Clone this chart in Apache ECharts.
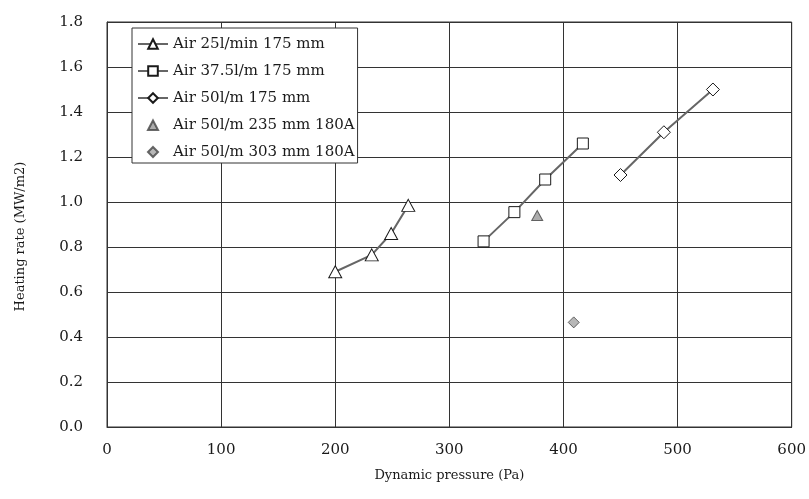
<!DOCTYPE html>
<html>
<head>
<meta charset="utf-8">
<script src="https://cdn.jsdelivr.net/npm/echarts@6/dist/echarts.min.js"></script>
<style>
  html, body { margin: 0; padding: 0; background: #fff; }
  #chart { width: 809px; height: 499px; }
</style>
</head>
<body>
<div id="chart"></div>
<script>
// values: [dynamic pressure (Pa), heating rate (MW/m2)]
const air25_175 = [[200, 0.69], [232, 0.765], [249, 0.86], [264, 0.985]]
const air375_175 = [[330, 0.825], [357, 0.955], [384, 1.10], [417, 1.26]]
const air50_175 = [[450, 1.12], [488, 1.31], [531, 1.50]]
const air50_235 = [[377, 0.94]]
const air50_303 = [[409, 0.465]]

const seriesNames = [
  'Air 25l/min 175 mm',
  'Air 37.5l/m 175 mm',
  'Air 50l/m 175 mm',
  'Air 50l/m 235 mm 180A',
  'Air 50l/m 303 mm 180A'
]

const font = 'DejaVu Serif'
const ink = '#1a1a1a'

const openMark = {
  color: '#fff',
  borderColor: ink,
  borderWidth: 1
}
const lineStyle = {
  color: '#666',
  width: 2
}

// small legend icons for the lone points (the move-tos pad the box so they are not stretched)
const smallTriangle = 'path://M0,0M12,12M6,1.5L11,11L1,11Z'
const smallDiamond = 'path://M0,0M12,12M6,1L11,6L6,11L1,6Z'

const chart = echarts.init(document.getElementById('chart'))

const option = {
  animation: false,
  backgroundColor: '#fff',
  textStyle: { fontFamily: font, color: ink },
  grid: {
    left: 107,
    right: 14,
    top: 22,
    bottom: 72,
    show: true,
    borderColor: '#333',
    borderWidth: 1
  },
  legend: {
    orient: 'vertical',
    left: 132,
    top: 28,
    padding: [7, 3, 2, 5],
    itemGap: 9,
    itemWidth: 30,
    itemHeight: 12,
    backgroundColor: '#fff',
    borderColor: '#333',
    borderWidth: 1,
    textStyle: { fontFamily: font, fontSize: 15, color: ink, lineHeight: 18 },
    data: [
      seriesNames[0],
      seriesNames[1],
      seriesNames[2],
      { name: seriesNames[3], icon: smallTriangle },
      { name: seriesNames[4], icon: smallDiamond }
    ]
  },
  xAxis: {
    type: 'value',
    min: 0,
    max: 600,
    interval: 100,
    name: 'Dynamic pressure (Pa)',
    nameLocation: 'middle',
    nameGap: 42,
    nameTextStyle: { fontFamily: font, fontSize: 13, color: ink },
    axisLine: { show: true, lineStyle: { color: '#333' } },
    axisTick: { show: false },
    axisLabel: { fontFamily: font, fontSize: 15, color: ink, margin: 16 },
    splitLine: { show: true, lineStyle: { color: '#333', width: 1 } }
  },
  yAxis: {
    type: 'value',
    min: 0,
    max: 1.8,
    interval: 0.2,
    name: 'Heating rate (MW/m2)',
    nameLocation: 'middle',
    nameGap: 80,
    nameTextStyle: { fontFamily: font, fontSize: 13, color: ink, padding: [0, 24, 0, 0] },
    axisLine: { show: true, lineStyle: { color: '#333' } },
    axisTick: { show: false },
    axisLabel: {
      fontFamily: font,
      fontSize: 15,
      color: ink,
      margin: 24,
      formatter: v => v.toFixed(1)
    },
    splitLine: { show: true, lineStyle: { color: '#333', width: 1 } }
  },
  series: [
    {
      name: seriesNames[0],
      type: 'line',
      data: air25_175,
      symbol: 'triangle',
      symbolSize: [13, 12],
      itemStyle: openMark,
      lineStyle
    },
    {
      name: seriesNames[1],
      type: 'line',
      data: air375_175,
      symbol: 'rect',
      symbolSize: 11,
      itemStyle: openMark,
      lineStyle
    },
    {
      name: seriesNames[2],
      type: 'line',
      data: air50_175,
      symbol: 'diamond',
      symbolSize: 13,
      itemStyle: openMark,
      lineStyle
    },
    {
      name: seriesNames[3],
      type: 'scatter',
      data: air50_235,
      symbol: 'triangle',
      symbolSize: [11, 10],
      itemStyle: { color: '#999', borderColor: '#444', borderWidth: 1 }
    },
    {
      name: seriesNames[4],
      type: 'scatter',
      data: air50_303,
      symbol: 'diamond',
      symbolSize: 11,
      itemStyle: { color: '#a5a5a5', borderColor: '#444', borderWidth: 1 }
    }
  ]
}

chart.setOption(option)
</script>
</body>
</html>
